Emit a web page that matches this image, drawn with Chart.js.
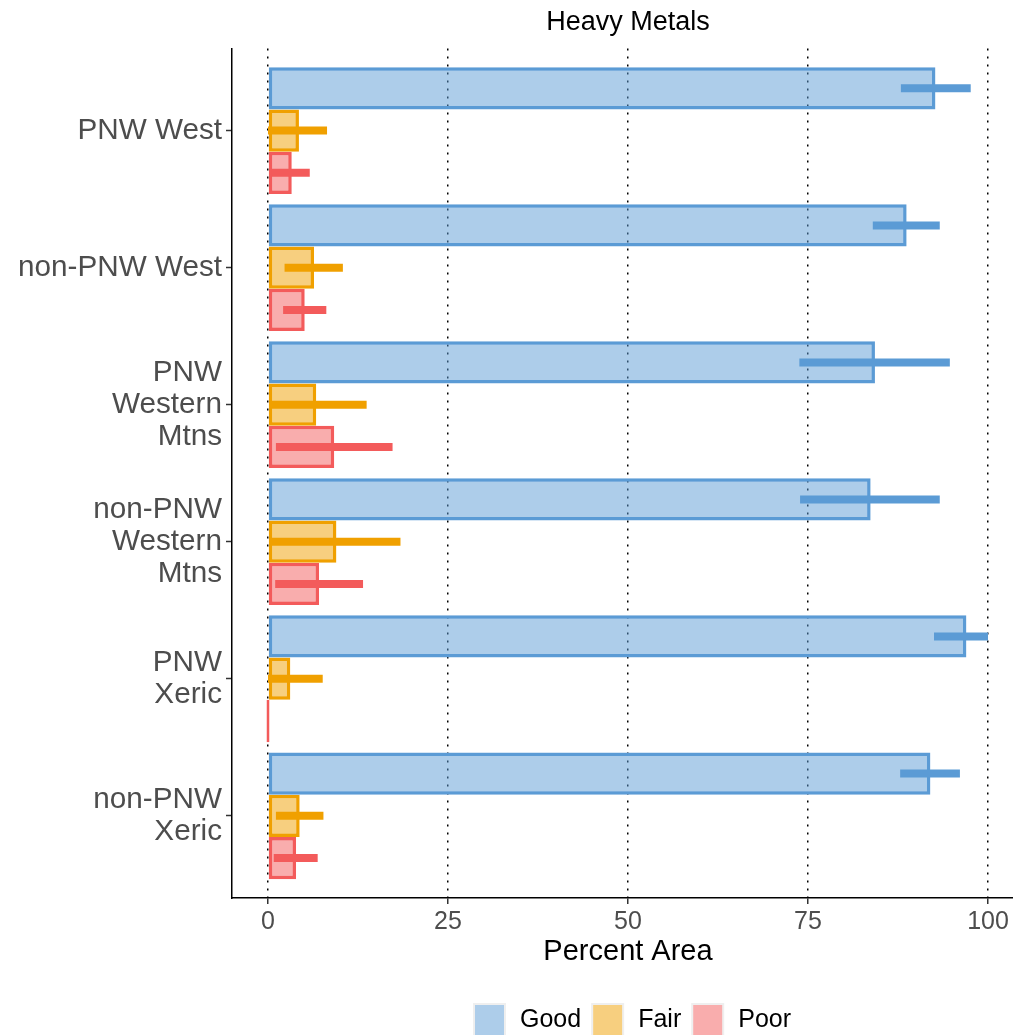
<!DOCTYPE html>
<html>
<head>
<meta charset="utf-8">
<title>Heavy Metals</title>
<script src="https://cdn.jsdelivr.net/npm/chart.js@4.4.1/dist/chart.umd.min.js"></script>
<style>
  html, body { margin: 0; padding: 0; background: #fff; overflow: hidden; }
  #wrap { width: 1024px; height: 1035px; }
</style>
</head>
<body>
<div id="wrap"><canvas id="chart" width="1024" height="1035"></canvas></div>
<script>
// Categories, top to bottom
const categories = ['PNW West', 'non-PNW West', 'PNW Western Mtns', 'non-PNW Western Mtns', 'PNW Xeric', 'non-PNW Xeric'];
const yTickLabels = [['PNW West'], ['non-PNW West'], ['PNW', 'Western', 'Mtns'], ['non-PNW', 'Western', 'Mtns'], ['PNW', 'Xeric'], ['non-PNW', 'Xeric']];
const xTicks = [0, 25, 50, 75, 100];

// Percent area estimates with lower / upper bounds
const good   = [92.7, 88.7, 84.3, 83.7, 97.0, 92.0];
const goodLo = [87.9, 84.0, 73.8, 73.9, 92.5, 87.8];
const goodHi = [97.6, 93.3, 94.7, 93.3, 100, 96.1];

const fair   = [4.3, 6.4, 6.7, 9.5, 3.1, 4.4];
const fairLo = [0, 2.3, 0.3, 0.5, 0, 1.1];
const fairHi = [8.2, 10.4, 13.7, 18.4, 7.6, 7.7];

const poor   = [3.3, 5.1, 9.2, 7.1, 0, 3.9];
const poorLo = [0.5, 2.1, 1.1, 1.0, 0, 0.8];
const poorHi = [5.8, 8.1, 17.3, 13.2, 0, 6.9];

const colors = {
  good: '#5B9BD5',
  fair: '#F0A000',
  poor: '#F35B5B'
};

Chart.defaults.font.family = '"Liberation Sans", Arial, sans-serif';

const makeSet = (label, values, lo, hi, color, fill) => ({
  label,
  data: values.map((v, i) => ({ x: v, y: i })),
  errLo: lo,
  errHi: hi,
  backgroundColor: fill,
  borderColor: color,
  borderWidth: 3.5,
  borderSkipped: false,
  minBarLength: 3,
  categoryPercentage: 0.925,
  barPercentage: 1
});

// horizontal error bars, drawn over the bars
const errorBars = {
  id: 'errorBars',
  afterDatasetsDraw(chart) {
    const { ctx, scales: { x } } = chart;
    ctx.save();
    chart.data.datasets.forEach((ds, i) => {
      const meta = chart.getDatasetMeta(i);
      if (meta.hidden) return;
      ctx.strokeStyle = ds.borderColor;
      ctx.lineWidth = 8;
      ctx.lineCap = 'butt';
      meta.data.forEach((bar, j) => {
        const lo = ds.errLo[j], hi = ds.errHi[j];
        if (hi <= lo) return;
        ctx.beginPath();
        ctx.moveTo(x.getPixelForValue(lo), bar.y);
        ctx.lineTo(x.getPixelForValue(hi), bar.y);
        ctx.stroke();
      });
    });
    ctx.restore();
  }
};

// ggplot-style legend under the axis title
const bottomLegend = {
  id: 'bottomLegend',
  afterDraw(chart) {
    const { ctx } = chart;
    const keyW = 33, keyH = 34, textGap = 14, itemGap = 10;
    const top = 1003, centerX = 632;
    ctx.save();
    ctx.font = '25px "Liberation Sans", Arial, sans-serif';
    ctx.textBaseline = 'middle';
    const sets = chart.data.datasets;
    const widths = sets.map(ds => keyW + textGap + ctx.measureText(ds.label).width);
    const total = widths.reduce((a, b) => a + b, 0) + itemGap * (sets.length - 1);
    let xPos = centerX - total / 2;
    sets.forEach((ds, i) => {
      ctx.fillStyle = '#EFEFEF';
      ctx.fillRect(xPos, top, keyW, keyH);
      ctx.fillStyle = '#fff';
      ctx.fillRect(xPos + 2, top + 2, keyW - 4, keyH - 4);
      ctx.fillStyle = ds.backgroundColor;
      ctx.fillRect(xPos + 2, top + 2, keyW - 4, keyH - 4);
      ctx.fillStyle = '#000';
      ctx.fillText(ds.label, xPos + keyW + textGap, top + keyH / 2);
      xPos += widths[i] + itemGap;
    });
    ctx.restore();
  }
};

new Chart(document.getElementById('chart'), {
  type: 'bar',
  data: {
    datasets: [
      makeSet('Good', good, goodLo, goodHi, colors.good, 'rgba(91,155,213,0.5)'),
      makeSet('Fair', fair, fairLo, fairHi, colors.fair, 'rgba(240,160,0,0.5)'),
      makeSet('Poor', poor, poorLo, poorHi, colors.poor, 'rgba(243,91,91,0.5)')
    ]
  },
  options: {
    indexAxis: 'y',
    responsive: false,
    animation: false,
    layout: { padding: { top: 0, left: 0, right: 0, bottom: 42 } },
    scales: {
      x: {
        type: 'linear',
        min: -5,
        max: 105,
        afterBuildTicks: s => { s.ticks = xTicks.map(v => ({ value: v })); },
        afterFit: s => { s.height = 95; },
        ticks: {
          autoSkip: false,
          color: '#4D4D4D',
          font: { size: 25 },
          padding: 3,
          callback: v => String(v)
        },
        grid: {
          color: '#000',
          lineWidth: 1.5,
          tickColor: '#333',
          tickLength: 6,
          tickWidth: 1.5,
          tickBorderDash: []
        },
        border: { display: true, color: '#000', width: 1.5, dash: [2, 6] },
        title: {
          display: true,
          text: 'Percent Area',
          color: '#000',
          font: { size: 29 },
          padding: { top: 0, bottom: 24 }
        }
      },
      y: {
        type: 'linear',
        min: -0.6,
        max: 5.6,
        reverse: true,
        offset: false,
        afterBuildTicks: s => { s.ticks = categories.map((_, i) => ({ value: i })); },
        afterFit: s => { s.width = 232; },
        ticks: {
          autoSkip: false,
          color: '#4D4D4D',
          font: { size: 29.7, lineHeight: 1.08 },
          padding: 4,
          callback: (v, i, ticks) => yTickLabels[ticks[i].value]
        },
        grid: {
          offset: false,
          drawOnChartArea: false,
          color: '#333',
          tickLength: 6,
          tickWidth: 1.5
        },
        border: { display: true, color: '#000', width: 1.5 }
      }
    },
    plugins: {
      legend: { display: false },
      tooltip: { enabled: false },
      title: {
        display: true,
        fullSize: false,
        text: 'Heavy Metals',
        color: '#000',
        font: { size: 27, weight: 'normal' },
        padding: { top: 6, bottom: 10 }
      }
    }
  },
  plugins: [errorBars, bottomLegend]
});
</script>
</body>
</html>
